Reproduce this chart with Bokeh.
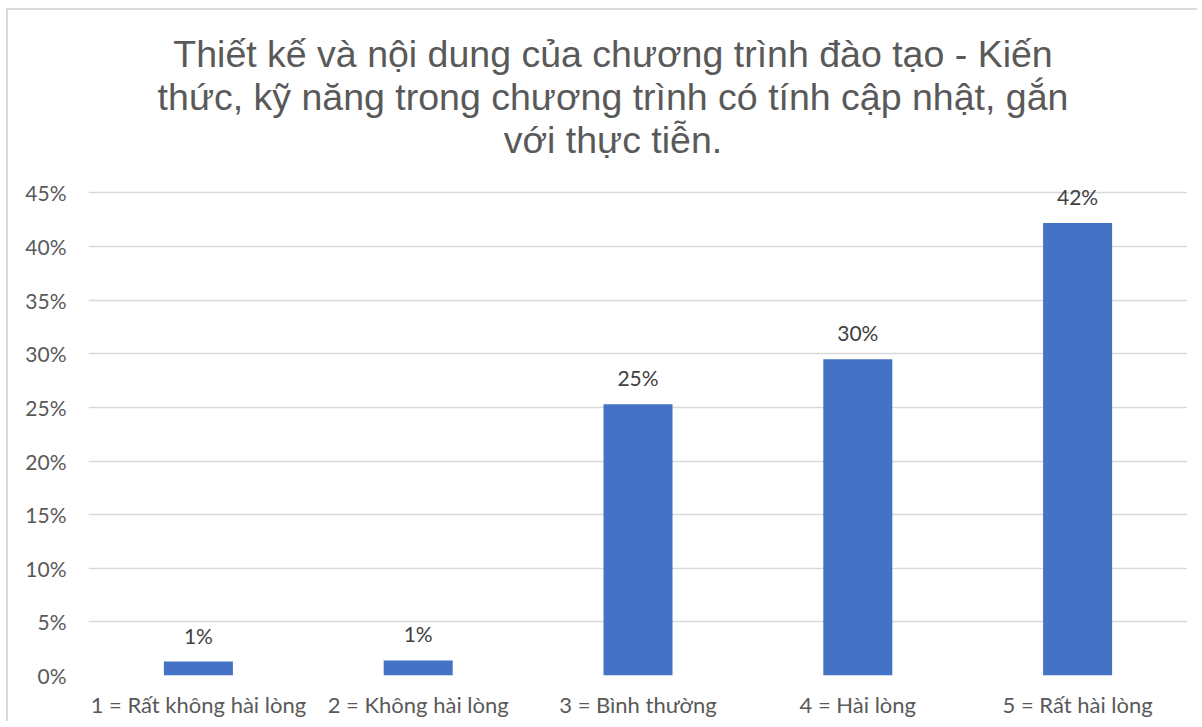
from bokeh.plotting import figure
from bokeh.models import ColumnDataSource, NumeralTickFormatter, FixedTicker, Range1d, Div
from bokeh.layouts import column
from bokeh.embed import file_html
from bokeh.resources import INLINE

categories = ["1 = Rất không hài lòng", "2 = Không hài lòng", "3 = Bình thường",
              "4 = Hài lòng", "5 = Rất hài lòng"]
values = [0.013, 0.014, 0.253, 0.295, 0.422]
labels = ["1%", "1%", "25%", "30%", "42%"]
y_ticks = [0.0, 0.05, 0.10, 0.15, 0.20, 0.25, 0.30, 0.35, 0.40, 0.45]
title_lines = ["Thiết kế và nội dung của chương trình đào tạo - Kiến",
               "thức, kỹ năng trong chương trình có tính cập nhật, gắn",
               "với thực tiễn."]

W = 1179
title = Div(text="<br>".join(title_lines), width=W, height=140,
            styles={"font-family": "'Liberation Sans', Arial, sans-serif",
                    "font-size": "37.5px", "line-height": "43px", "color": "#595959",
                    "text-align": "center", "white-space": "nowrap",
                    "padding-left": "21px", "padding-top": "18px",
                    "box-sizing": "border-box"})

src = ColumnDataSource(dict(cat=categories, val=values, lab=labels))

p = figure(x_range=categories, y_range=Range1d(0, 0.47), width=W, height=561,
           output_backend="svg", toolbar_location=None,
           min_border_left=80, min_border_right=0, min_border_top=11, min_border_bottom=46)
p.x_range.range_padding = 0
p.outline_line_color = None
p.background_fill_color = "white"
p.border_fill_color = "white"

p.vbar(x="cat", top="val", width=0.314, source=src, fill_color="#4472C4", line_color=None)
p.text(x="cat", y="val", text="lab", source=src, text_align="center", text_baseline="bottom",
       y_offset=-14, text_font_size="21px", text_color="#404040", text_font={"value": "Lato"})

p.xgrid.grid_line_color = None
p.ygrid.grid_line_color = "#D9D9D9"
p.ygrid.grid_line_width = 1.5

p.yaxis.ticker = FixedTicker(ticks=y_ticks)
p.yaxis.formatter = NumeralTickFormatter(format="0%")
for ax in (p.xaxis[0], p.yaxis[0]):
    ax.axis_line_color = None
    ax.major_tick_line_color = None
    ax.minor_tick_line_color = None
    ax.major_tick_out = 0
    ax.major_tick_in = 0
    ax.major_label_text_color = "#595959"
    ax.major_label_text_font = "Lato"
p.yaxis.major_label_text_font_size = "21px"
p.xaxis.major_label_text_font_size = "22px"
p.yaxis.major_label_standoff = 22
p.xaxis.major_label_standoff = 15

layout = column(title, p, spacing=0,
                styles={"margin-left": "6px", "margin-top": "8px",
                        "border-left": "2px solid #D9D9D9", "border-top": "2px solid #D9D9D9"})

open("out.html", "w").write(file_html(layout, INLINE))
